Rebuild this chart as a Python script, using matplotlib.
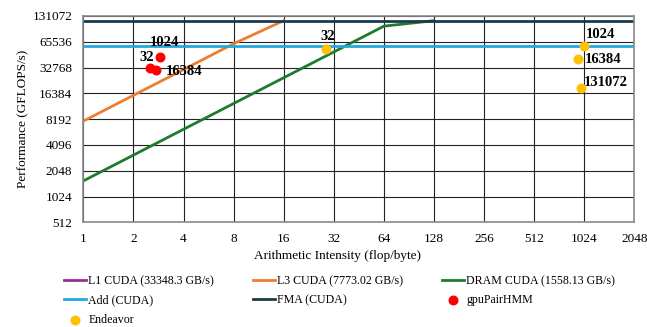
import matplotlib
matplotlib.use('Agg')
import matplotlib.pyplot as plt
from matplotlib.lines import Line2D
from matplotlib.ticker import FixedLocator, FixedFormatter, NullLocator

plt.rcParams['font.family'] = ['Liberation Serif', 'DejaVu Serif']

# axis ticks (powers of two)
x_ticks = [1, 2, 4, 8, 16, 32, 64, 128, 256, 512, 1024, 2048]
y_ticks = [512, 1024, 2048, 4096, 8192, 16384, 32768, 65536, 131072]

# roofline series
l1_ai = []
l1_perf = []
l3_ai = [1, 2, 4, 8, 16]
l3_perf = [7773, 15546, 31092, 62184, 115600]
dram_ai = [1, 2, 4, 8, 16, 32, 64, 128]
dram_perf = [1558, 3116, 6233, 12465, 24930, 49860, 99720, 115600]
add_ai = [1, 2048]
add_perf = [57800, 57800]
fma_ai = [1, 2048]
fma_perf = [115600, 115600]

# measured kernels
gpu_ai = [2.51, 2.72, 2.90]
gpu_perf = [32800, 30800, 44000]
gpu_labels = ['32', '16384', '1024']
end_ai = [28.6, 1018, 935, 982]
end_perf = [53400, 58300, 40800, 18700]
end_labels = ['32', '1024', '16384', '131072']

# label offsets in pixels (dx, dy, ha)
gpu_offsets = [(4, 10, 'right'), (10, -2, 'left'), (4, 14, 'center')]
end_offsets = [(2, 13, 'center'), (2, 12, 'left'), (7, 0, 'left'), (3, 6, 'left')]

fig = plt.figure(figsize=(6.47, 3.27), dpi=100)
ax = fig.add_axes([0.1288, 0.3202, 0.8516, 0.6309])

ax.plot(l1_ai, l1_perf, color='#9B2D9B', lw=2, label='L1 CUDA (33348.3 GB/s)')
ax.plot(l3_ai, l3_perf, color='#ED7D31', lw=2, label='L3 CUDA (7773.02 GB/s)')
ax.plot(dram_ai, dram_perf, color='#1E7B2E', lw=2, label='DRAM CUDA (1558.13 GB/s)')
ax.plot(add_ai, add_perf, color='#22A7E0', lw=2, label='Add (CUDA)')
ax.plot(fma_ai, fma_perf, color='#1C3A4C', lw=2, label='FMA (CUDA)')
ax.scatter(gpu_ai, gpu_perf, s=38, color='#FF0000', zorder=5, label='gpuPairHMM')
ax.scatter(end_ai, end_perf, s=38, color='#FFC000', zorder=5, label='Endeavor')

for x, y, t, (dx, dy, ha) in zip(gpu_ai, gpu_perf, gpu_labels, gpu_offsets):
    ax.annotate(t, (x, y), xytext=(dx, dy), textcoords='offset pixels',
                ha=ha, va='center', fontsize=10.5, fontweight='bold')
for x, y, t, (dx, dy, ha) in zip(end_ai, end_perf, end_labels, end_offsets):
    ax.annotate(t, (x, y), xytext=(dx, dy), textcoords='offset pixels',
                ha=ha, va='center', fontsize=10.5, fontweight='bold')

ax.set_xscale('log', base=2)
ax.set_yscale('log', base=2)
ax.set_xlim(1, 2048)
ax.set_ylim(512, 131072)
ax.xaxis.set_major_locator(FixedLocator(x_ticks))
ax.xaxis.set_major_formatter(FixedFormatter([str(v) for v in x_ticks]))
ax.yaxis.set_major_locator(FixedLocator(y_ticks))
ax.yaxis.set_major_formatter(FixedFormatter([str(v) for v in y_ticks]))
ax.xaxis.set_minor_locator(NullLocator())
ax.yaxis.set_minor_locator(NullLocator())
ax.tick_params(length=0, labelsize=9.5, pad=8)
ax.grid(True, color='#222222', lw=0.8)
ax.set_axisbelow(True)
for s in ax.spines.values():
    s.set_color('#8a8a8a')
    s.set_linewidth(1.2)

ax.set_xlabel('Arithmetic Intensity (flop/byte)', fontsize=9.5)
ax.xaxis.set_label_coords(0.461, -0.135)
ax.set_ylabel('Performance (GFLOPS/s)', fontsize=9.5, labelpad=2)

# legend filled row by row like the original (3 columns)
h, l = ax.get_legend_handles_labels()
blank = Line2D([], [], color='none')
order = [0, 3, 6, 1, 4, None, 2, 5, None]
hh = [h[i] if i is not None else blank for i in order]
ll = [l[i] if i is not None else '' for i in order]
fig.legend(hh, ll, loc='upper left', bbox_to_anchor=(0.0985, 0.159), ncol=3,
           frameon=False, fontsize=8.6, handlelength=1.9, handletextpad=0.17,
           columnspacing=3.2, labelspacing=0.62, borderpad=0, borderaxespad=0)

fig.savefig('out.png', dpi=100)
